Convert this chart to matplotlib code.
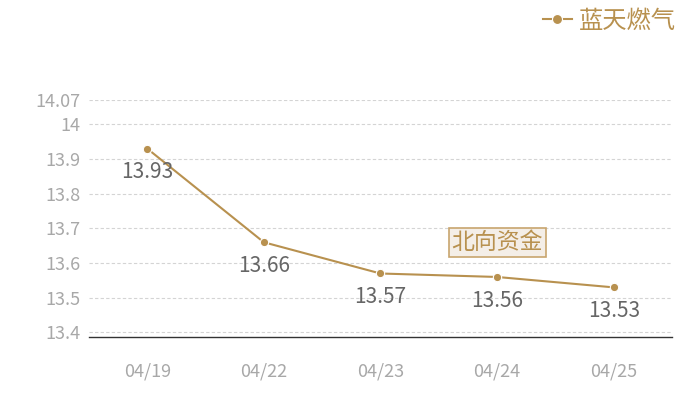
import matplotlib.pyplot as plt

plt.rcParams['font.family'] = ['Noto Sans CJK SC', 'DejaVu Sans']

dates = ['04/19', '04/22', '04/23', '04/24', '04/25']
prices = [13.93, 13.66, 13.57, 13.56, 13.53]
y_ticks = [13.4, 13.5, 13.6, 13.7, 13.8, 13.9, 14.0, 14.07]
y_tick_labels = ['13.4', '13.5', '13.6', '13.7', '13.8', '13.9', '14', '14.07']
series_name = '蓝天燃气'

gold = '#b8914f'
tick_grey = '#a8a8a8'

fig = plt.figure(figsize=(7, 4), dpi=100)
ax = fig.add_axes([0.127, 0.1575, 0.833, 0.5925])

x = list(range(len(dates)))
ax.plot(x, prices, color=gold, linewidth=1.5, marker='o', markersize=6,
        markeredgecolor='white', markeredgewidth=0.8, label=series_name, zorder=3)
for xi, v in zip(x, prices):
    ax.annotate('%.2f' % v, (xi, v), xytext=(0, -17), textcoords='offset points',
                ha='center', va='center', fontsize=15, color='#666666')

ax.set_xlim(-0.5, len(dates) - 0.5)
ax.set_ylim(13.387, 14.07)
ax.set_xticks(x)
ax.set_xticklabels(dates)
ax.set_yticks(y_ticks)
ax.set_yticklabels(y_tick_labels)
ax.tick_params(axis='both', length=0, labelsize=13, colors=tick_grey)
ax.tick_params(axis='x', pad=18)
ax.tick_params(axis='y', pad=6)
ax.grid(axis='y', linestyle=(0, (3, 2)), color='#d4d4d4', linewidth=0.8)
for s in ['top', 'right', 'left']:
    ax.spines[s].set_visible(False)
ax.spines['bottom'].set_color('#333333')
ax.spines['bottom'].set_linewidth(1)

ax.text(3.0, 13.66, '北向资金', ha='center', va='center', fontsize=16.5, color=gold,
        bbox=dict(boxstyle='square,pad=0.12', facecolor='#f4eee7', edgecolor='#c8a56e', linewidth=1.2))

fig.legend(loc='upper right', bbox_to_anchor=(0.997, 1.035), frameon=False, fontsize=17.5,
           labelcolor=gold, handlelength=1.2, handletextpad=0.3, markerscale=1.2)

fig.savefig('out.png', dpi=100, facecolor='white')
